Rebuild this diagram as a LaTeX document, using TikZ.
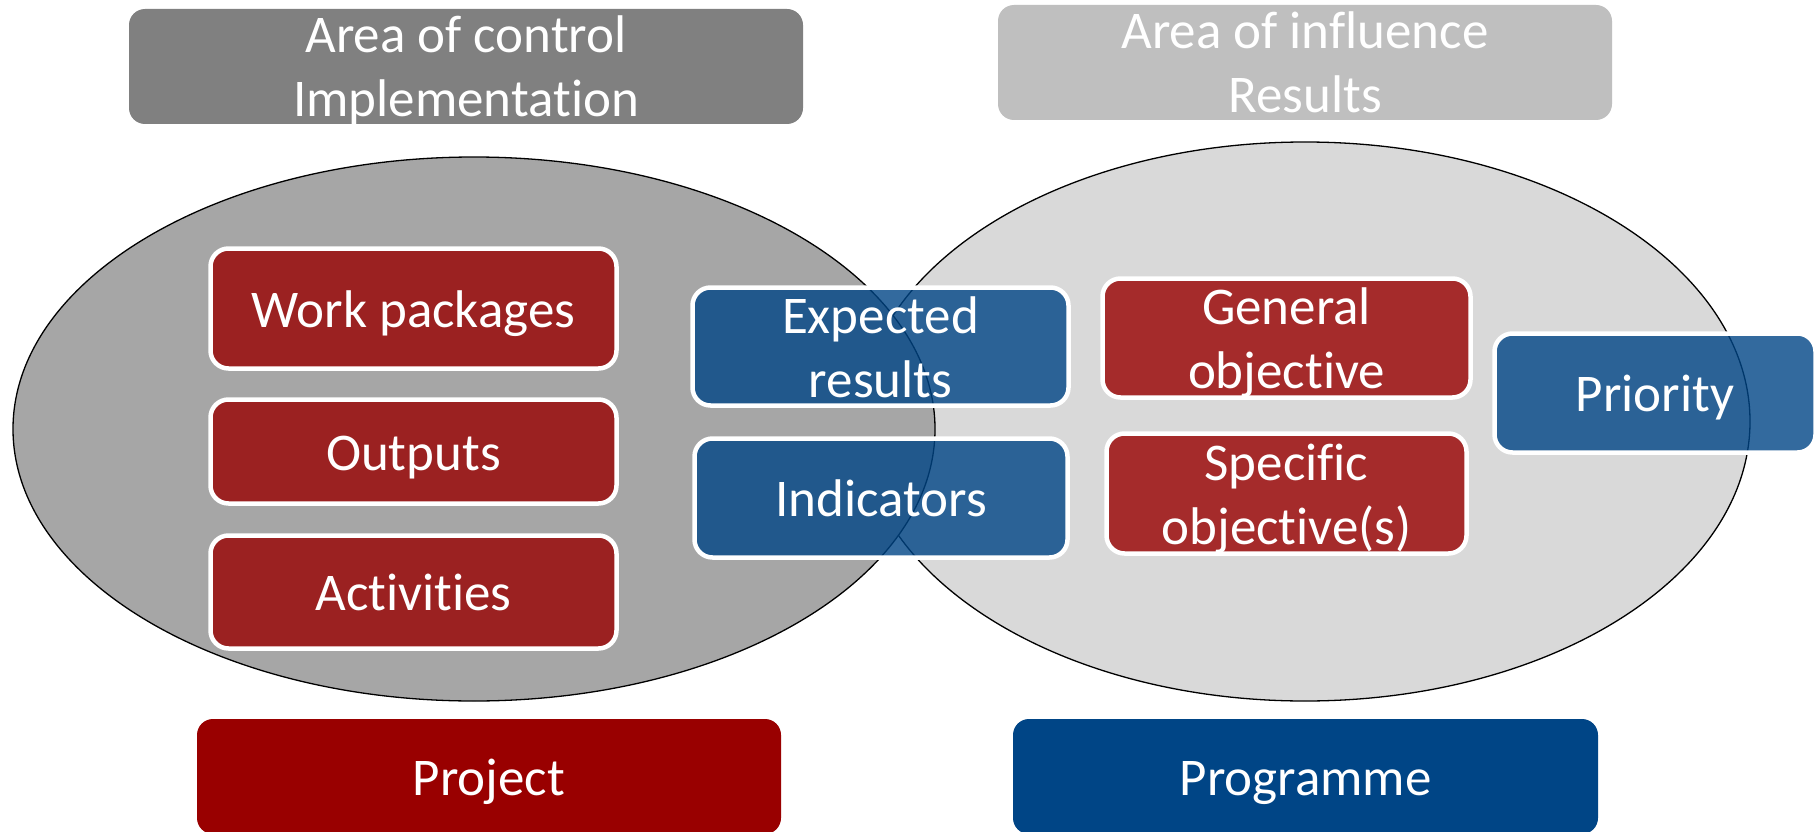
\documentclass[tikz,border=0pt]{standalone}
\usepackage{fontspec}
\setmainfont{Carlito}[Ligatures={NoCommon,NoContextual}]
\usetikzlibrary{shapes.geometric}
\newcommand\myligbreak{\kern0pt{}}
\definecolor{hdrdark}{HTML}{808080}
\definecolor{hdrlight}{HTML}{BFBFBF}
\definecolor{elldark}{HTML}{A6A6A6}
\definecolor{elllight}{HTML}{D9D9D9}
\definecolor{projred}{HTML}{990000}
\definecolor{progblue}{HTML}{004586}
\begin{document}
\begin{tikzpicture}[x=1pt,y=-1pt,
  txt/.style={text=white, font=\fontsize{53}{64}\selectfont, align=center, inner sep=0pt},
  oneline/.style={text height=37pt, text depth=0pt},
  twoline/.style={text height=101pt, text depth=0pt},
  hdr/.style={txt, rectangle, rounded corners=16pt},
  bigbox/.style={txt, rectangle, rounded corners=16pt},
  inbox/.style={txt, rectangle, rounded corners=18pt, draw=white, line width=4.5pt, fill opacity=0.8, text opacity=1},
  redbox/.style={inbox, fill=projred},
  bluebox/.style={inbox, fill=progblue},
  area/.style={ellipse, draw=black, line width=1.3pt, inner sep=0pt}
]
\useasboundingbox (0,0) rectangle (1820,832);
\fill[white] (0,0) rectangle (1820,832);

% ellipses (right first, left on top)
\node[area, fill=elllight, minimum width=890pt, minimum height=559pt] (ellR) at (1305,421.5) {};
\node[area, fill=elldark, minimum width=922pt, minimum height=544pt] (ellL) at (474,429) {};

% headers
\node[hdr, twoline, fill=hdrdark, minimum width=674pt, minimum height=115pt] (hctrl) at (466,66.5) {Area of control\\Implementat\myligbreak ion};
\node[hdr, twoline, fill=hdrlight, minimum width=614pt, minimum height=115pt] (hinfl) at (1305,62.5) {Area of inf\myligbreak luence\\Results};

% inner boxes
\node[redbox, oneline, minimum width=406pt, minimum height=120pt] (wp) at (413.5,308.5) {Work packages};
\node[redbox, oneline, minimum width=406pt, minimum height=104pt] (outp) at (413.5,451.5) {Outputs};
\node[redbox, oneline, minimum width=406pt, minimum height=113pt] (act) at (413.5,592) {Act\myligbreak ivit\myligbreak ies};
\node[bluebox, twoline, minimum width=376pt, minimum height=118pt] (exp) at (880.5,346.5) {Expected\\results};
\node[bluebox, oneline, minimum width=373pt, minimum height=119pt] (ind) at (881,498) {Indicators};
\node[redbox, twoline, minimum width=368pt, minimum height=119pt] (gen) at (1286.5,338) {General\\object\myligbreak ive};
\node[redbox, twoline, minimum width=360pt, minimum height=120pt] (spec) at (1286.5,493.5) {Specif\myligbreak ic\\object\myligbreak ive(s)};
\node[bluebox, oneline, minimum width=321pt, minimum height=119pt] (pri) at (1655,393) {Priority};

% bottom boxes
\node[bigbox, oneline, fill=projred, minimum width=584pt, minimum height=115pt] (proj) at (489,776.5) {Project};
\node[bigbox, oneline, fill=progblue, minimum width=585pt, minimum height=115pt] (prog) at (1305.5,776.5) {Programme};
\end{tikzpicture}
\end{document}
